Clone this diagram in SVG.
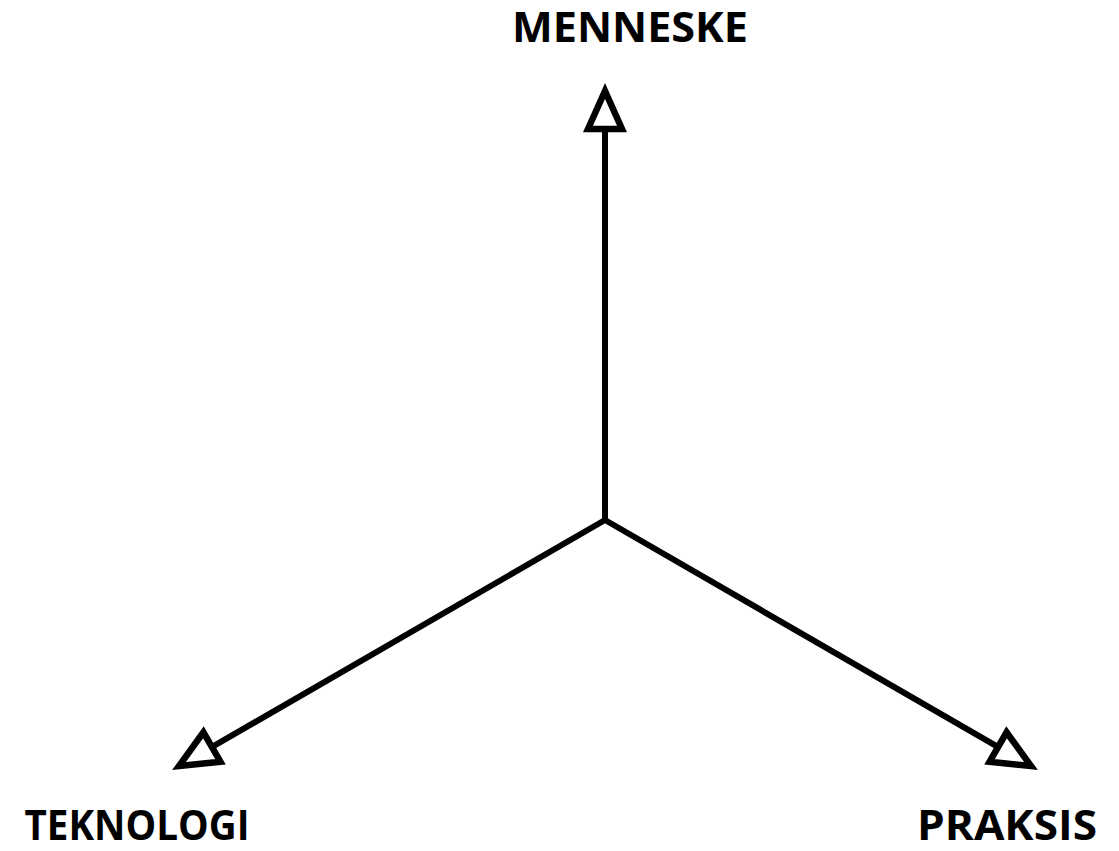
<svg xmlns="http://www.w3.org/2000/svg" width="1119" height="851" viewBox="0 0 1119 851">
<style>
.lbl{font-family:"Open Sans","Liberation Sans",sans-serif;font-weight:bold;font-size:41px;fill:#000;text-anchor:middle}
.conn{stroke:#000;stroke-width:6;fill:none;marker-end:url(#ah)}
</style>
<defs>
<marker id="ah" markerUnits="userSpaceOnUse" orient="auto" refX="0" refY="0" markerWidth="60" markerHeight="60" overflow="visible">
<path d="M0,0 L-38,-17 L-38,17 Z" fill="#fff" stroke="#000" stroke-width="6.5" stroke-linejoin="miter"/>
</marker>
</defs>
<rect width="1119" height="851" fill="#fff"/>
<g id="connectors">
<line class="conn" x1="605" y1="520" x2="605" y2="91"/>
<line class="conn" x1="605" y1="520" x2="179" y2="766"/>
<line class="conn" x1="605" y1="520" x2="1031" y2="766"/>
</g>
<g id="menneske"><text class="lbl" x="630" y="42" textLength="236" lengthAdjust="spacingAndGlyphs">MENNESKE</text></g>
<g id="teknologi"><text class="lbl" x="137" y="840" textLength="225" lengthAdjust="spacingAndGlyphs">TEKNOLOGI</text></g>
<g id="praksis"><text class="lbl" x="1007" y="840" textLength="180" lengthAdjust="spacingAndGlyphs">PRAKSIS</text></g>
</svg>
